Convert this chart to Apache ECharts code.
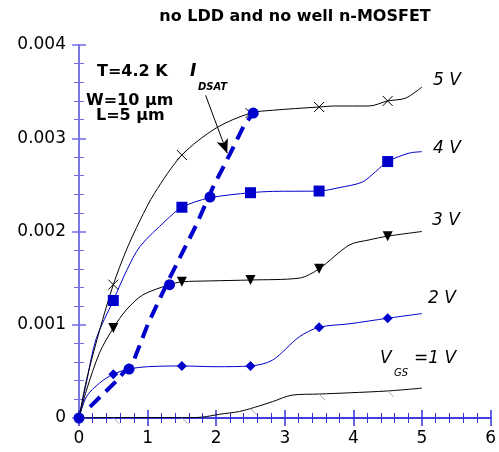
<!DOCTYPE html>
<html>
<head>
<meta charset="utf-8">
<script src="https://cdn.jsdelivr.net/npm/echarts@6/dist/echarts.min.js"></script>
<style>
  html, body { margin: 0; padding: 0; background: #fff; }
  #chart { width: 499px; height: 452px; }
</style>
</head>
<body>
<div id="chart"></div>
<script>
// drain current I_D in mA; converted to A below
const MA = 0.001;

// V_DS sample points and I_D for each gate voltage
const v5X = [0, 0.11, 0.3, 0.5, 0.69, 0.89, 1.1, 1.5, 2.0, 2.5, 2.82, 3.5, 3.74, 4.23, 4.5, 4.76, 5.0];
const v5Y = [0, 0.41, 0.94, 1.43, 1.8, 2.12, 2.41, 2.82, 3.11, 3.27, 3.30, 3.335, 3.346, 3.346, 3.40, 3.43, 3.55];

const v4X = [0, 0.1, 0.25, 0.5, 0.7, 0.89, 1.27, 1.5, 1.9, 2.5, 2.82, 3.5, 3.79, 4.13, 4.32, 4.5, 4.81, 5.0];
const v4Y = [0, 0.35, 0.85, 1.26, 1.59, 1.84, 2.12, 2.26, 2.36, 2.416, 2.43, 2.434, 2.47, 2.53, 2.64, 2.75, 2.84, 2.856];

const v3X = [0, 0.11, 0.3, 0.5, 0.69, 0.93, 1.32, 1.5, 1.9, 2.5, 3.21, 3.5, 3.94, 4.23, 4.5, 5.0];
const v3Y = [0, 0.3, 0.7, 0.965, 1.16, 1.32, 1.43, 1.46, 1.47, 1.48, 1.50, 1.60, 1.855, 1.91, 1.95, 2.0];

const v2X = [0, 0.11, 0.3, 0.5, 0.73, 1.0, 1.5, 2.0, 2.5, 2.82, 3.21, 3.5, 3.94, 4.5, 5.0];
const v2Y = [0, 0.23, 0.375, 0.47, 0.525, 0.55, 0.558, 0.55, 0.558, 0.62, 0.87, 0.973, 1.01, 1.07, 1.12];

const v1X = [0, 0.5, 1.0, 1.5, 1.8, 2.05, 2.34, 2.63, 2.82, 3.11, 3.5, 3.94, 4.5, 5.0];
const v1Y = [0, 0.004, 0.004, 0.002, 0.01, 0.04, 0.07, 0.13, 0.175, 0.246, 0.257, 0.27, 0.29, 0.32];

// marker positions (every 1 V starting at 0.5 V)
const markX = [0.5, 1.5, 2.5, 3.5, 4.5];
const v5Mark = [1.43, 2.82, 3.27, 3.335, 3.40];
const v4Mark = [1.26, 2.26, 2.416, 2.434, 2.75];
const v3Mark = [0.965, 1.46, 1.48, 1.60, 1.95];
const v2Mark = [0.47, 0.558, 0.558, 0.973, 1.07];
const v1Mark = [0.003, 0.002, 0.1, 0.257, 0.29];

// I_DSAT locus (dashed) and saturation points
const dsatX = [0.16, 0.55, 0.8, 1.0, 1.32, 1.71, 1.95, 2.2, 2.4, 2.54];
const dsatY = [0.12, 0.40, 0.62, 1.0, 1.5, 2.07, 2.47, 2.83, 3.13, 3.27];
const satX = [0, 0.73, 1.32, 1.91, 2.54];
const satY = [0, 0.525, 1.43, 2.37, 3.27];

// annotation arrow for the I_DSAT label
const arrowX = [1.846, 2.16];
const arrowY = [3.46, 2.84];

const xTicks = [0, 6];
const yTicks = [0, 0.004];

const BLUE = '#0000cc';
const AX_DARK = '#3333dd';
const AX_LIGHT = '#6f6fe6';

const pairs = (xs, ys) => xs.map((x, i) => [x, ys[i] * MA]);

function curve(xs, ys, color) {
  return {
    type: 'line',
    data: pairs(xs, ys),
    smooth: 0.3,
    showSymbol: false,
    lineStyle: { color: color, width: 1 },
    z: 2
  };
}

function marks(ys, symbol, size, color, extra) {
  return Object.assign({
    type: 'scatter',
    data: pairs(markX, ys),
    symbol: symbol,
    symbolSize: size,
    itemStyle: { color: color, opacity: 1 },
    z: 4
  }, extra || {});
}

function xAx(pos, showLabel) {
  return {
    type: 'value',
    position: pos,
    min: xTicks[0],
    max: xTicks[1],
    interval: 1,
    axisLine: { show: true, lineStyle: { color: AX_DARK, width: 1.5 } },
    axisTick: { show: true, inside: true, length: 8, lineStyle: { color: AX_DARK, width: 1.5 } },
    minorTick: { show: true, splitNumber: 5, length: 5, lineStyle: { color: AX_DARK, width: 1 } },
    splitLine: { show: false },
    axisLabel: {
      show: showLabel,
      margin: 12,
      color: '#000',
      fontSize: 17,
      fontFamily: 'DejaVu Sans'
    }
  };
}

function yAx(pos, showLabel) {
  return {
    type: 'value',
    position: pos,
    min: yTicks[0],
    max: yTicks[1],
    interval: 0.001,
    axisLine: { show: true, lineStyle: { color: AX_LIGHT, width: 1.5 } },
    axisTick: { show: true, inside: true, length: 7, lineStyle: { color: AX_LIGHT, width: 1.5 } },
    minorTick: { show: true, splitNumber: 5, length: 5, lineStyle: { color: AX_LIGHT, width: 1 } },
    splitLine: { show: false },
    axisLabel: {
      show: showLabel,
      margin: 13,
      color: '#000',
      fontSize: 17,
      fontFamily: 'DejaVu Sans',
      formatter: v => (v === 0 ? '0' : v.toFixed(3))
    }
  };
}

function txt(x, y, text, font, align) {
  return {
    type: 'text',
    x: x,
    y: y,
    style: {
      text: text,
      font: font,
      fill: '#000',
      textAlign: align || 'left',
      textVerticalAlign: 'middle'
    },
    z: 10
  };
}

const chart = echarts.init(document.getElementById('chart'), null, { renderer: 'canvas' });

chart.setOption({
  animation: false,
  backgroundColor: '#fff',
  grid: { left: 79, right: 5, top: 45, bottom: 34 },
  xAxis: [xAx('bottom', true), xAx('top', false)],
  yAxis: [yAx('left', true), yAx('right', false)],
  graphic: [
    txt(295, 17, 'no LDD and no well n-MOSFET', 'bold 16px "DejaVu Sans"', 'center'),
    txt(97, 72, 'T=4.2 K', 'bold 16px "DejaVu Sans"'),
    txt(190, 72, 'I', 'italic bold 17px "DejaVu Sans"'),
    txt(198, 87, 'DSAT', 'italic bold 10px "DejaVu Sans"'),
    txt(86, 101, 'W=10 μm', 'bold 16px "DejaVu Sans"'),
    txt(96, 116, 'L=5 μm', 'bold 16px "DejaVu Sans"'),
    txt(433, 81, '5 V', 'italic 17px "DejaVu Sans"'),
    txt(433, 149, '4 V', 'italic 17px "DejaVu Sans"'),
    txt(432, 221, '3 V', 'italic 17px "DejaVu Sans"'),
    txt(428, 299, '2 V', 'italic 17px "DejaVu Sans"'),
    txt(380, 359, 'V', 'italic 17px "DejaVu Sans"'),
    txt(394, 373, 'GS', 'italic 10px "DejaVu Sans"'),
    txt(414, 359, '=1 V', 'italic 17px "DejaVu Sans"')
  ],
  series: [
    curve(v1X, v1Y, '#000'),
    curve(v2X, v2Y, BLUE),
    curve(v3X, v3Y, '#000'),
    curve(v4X, v4Y, BLUE),
    curve(v5X, v5Y, '#000'),
    marks(v1Mark, 'path://M0,0L10,10', 6, 'none',
      { itemStyle: { color: 'none', borderColor: '#aaaaaa', borderWidth: 1, opacity: 1 }, symbolOffset: [3, 3] }),
    marks(v2Mark, 'diamond', 10, BLUE),
    marks(v3Mark, 'triangle', 10, '#000', { symbolRotate: 180 }),
    marks(v4Mark, 'rect', 11, BLUE),
    marks(v5Mark, 'path://M0,0L10,10M10,0L0,10', 10, 'none',
      { itemStyle: { color: 'none', borderColor: '#000', borderWidth: 1, opacity: 1 } }),
    {
      type: 'line',
      data: pairs(dsatX, dsatY),
      showSymbol: false,
      lineStyle: { color: BLUE, width: 4, type: [14, 8] },
      z: 5,
      markLine: {
        silent: true,
        symbol: ['none', 'arrow'],
        symbolSize: [9, 14],
        label: { show: false },
        lineStyle: { color: '#000', width: 1, type: 'solid' },
        data: [[
          { coord: [arrowX[0], arrowY[0] * MA] },
          { coord: [arrowX[1], arrowY[1] * MA] }
        ]]
      }
    },
    {
      type: 'scatter',
      data: pairs(satX, satY),
      symbol: 'circle',
      symbolSize: 11,
      itemStyle: { color: BLUE, opacity: 1 },
      z: 6
    }
  ]
});
</script>
</body>
</html>
